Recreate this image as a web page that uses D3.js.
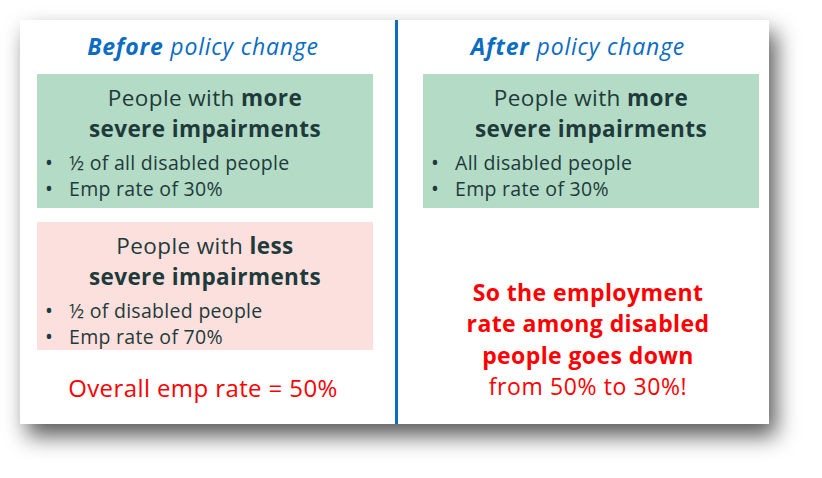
<!DOCTYPE html>
<html>
<head>
<meta charset="utf-8">
<script src="https://cdn.jsdelivr.net/npm/d3@7"></script>
<style>
  body { margin: 0; background: #ffffff; }
  svg { display: block; font-family: "Open Sans", sans-serif; }
</style>
</head>
<body>
<svg></svg>
<script>

const svg = d3.select("svg");
const svg_width = 822;
const svg_height = 478;

svg.attr("width", svg_width)
    .attr("height", svg_height);

// panel texts
const panels = ["before", "after"];
const panel_titles = [["Before", " policy change"], ["After", " policy change"]];

// boxes: panel, heading (normal, bold), second heading line, bullets
const box_panel = ["before", "before", "after"];
const box_kind = ["more", "less", "more"];
const box_head1 = [["People with ", "more"], ["People with ", "less"], ["People with ", "more"]];
const box_head2 = ["severe impairments", "severe impairments", "severe impairments"];
const box_bullets = [
    ["½ of all disabled people", "Emp rate of 30%"],
    ["½ of disabled people", "Emp rate of 70%"],
    ["All disabled people", "Emp rate of 30%"]
];

const before_note = "Overall emp rate = 50%";
const after_note_bold = ["So the employment", "rate among disabled", "people goes down"];
const after_note_plain = "from 50% to 30%!";

const colors = {more: "#b3dbc6", less: "#fce0dd"};
const text_dark = "#1e3a3a";
const blue = "#0a6cc2";
const red = "#ff0000";

// layout
const card = {x: 20, y: 20, w: 749, h: 404};
const titleCx = {before: 203, after: 578};
const boxX = {before: 37, after: 423};
const box_w = 336;
const box_top = [74, 222, 74];
const box_h = [134, 128, 134];

const defs = svg.append("defs");
const filter = defs.append("filter")
    .attr("id", "shadow")
    .attr("x", "-10%").attr("y", "-10%")
    .attr("width", "130%").attr("height", "150%");
filter.append("feDropShadow")
    .attr("dx", 7).attr("dy", 12)
    .attr("stdDeviation", 11)
    .attr("flood-color", "#000")
    .attr("flood-opacity", 0.65);

svg.append("rect")
    .attr("x", card.x).attr("y", card.y)
    .attr("width", card.w).attr("height", card.h)
    .attr("fill", "#fff")
    .attr("filter", "url(#shadow)");

svg.append("line")
    .attr("x1", 396.5).attr("x2", 396.5)
    .attr("y1", card.y).attr("y2", card.y + card.h)
    .attr("stroke", blue)
    .attr("stroke-width", 3);

svg.selectAll("text.title")
    .data(panels)
    .join("text")
    .attr("class", "title")
    .attr("x", d => titleCx[d])
    .attr("y", 55)
    .attr("text-anchor", "middle")
    .attr("font-size", 23)
    .attr("letter-spacing", 0.8)
    .attr("font-style", "italic")
    .attr("fill", blue)
    .each(function(d, i) {
        const t = d3.select(this);
        t.append("tspan").attr("font-weight", "bold").text(panel_titles[i][0]);
        t.append("tspan").text(panel_titles[i][1]);
    });

const boxes = svg.selectAll("g.box")
    .data(box_panel.map((p, i) => ({p, i})))
    .join("g")
    .attr("class", "box")
    .attr("transform", d => `translate(${boxX[d.p]},${box_top[d.i]})`);

boxes.append("rect")
    .attr("width", box_w)
    .attr("height", d => box_h[d.i])
    .attr("fill", d => colors[box_kind[d.i]]);

boxes.append("text")
    .attr("x", box_w / 2)
    .attr("y", 32)
    .attr("text-anchor", "middle")
    .attr("font-size", 22.5)
    .attr("letter-spacing", 0.4)
    .attr("fill", text_dark)
    .each(function(d) {
        const t = d3.select(this);
        t.append("tspan").text(box_head1[d.i][0]);
        t.append("tspan").attr("font-weight", "bold").text(box_head1[d.i][1]);
    });

boxes.append("text")
    .attr("x", box_w / 2)
    .attr("y", 63)
    .attr("text-anchor", "middle")
    .attr("font-size", 22.5)
    .attr("letter-spacing", 0.4)
    .attr("font-weight", "bold")
    .attr("fill", text_dark)
    .text(d => box_head2[d.i]);

boxes.each(function(d) {
    const g = d3.select(this);
    box_bullets[d.i].forEach((line, j) => {
        g.append("text")
            .attr("x", 8)
            .attr("y", 96 + j * 25.5)
            .attr("font-size", 21)
            .attr("fill", text_dark)
            .text("•");
        g.append("text")
            .attr("x", 32)
            .attr("y", 96 + j * 25.5)
            .attr("font-size", 19.5)
            .attr("letter-spacing", 0.3)
            .attr("fill", text_dark)
            .text(line);
    });
});

svg.append("text")
    .attr("x", 203)
    .attr("y", 397)
    .attr("text-anchor", "middle")
    .attr("font-size", 24)
    .attr("letter-spacing", 0.4)
    .attr("fill", red)
    .text(before_note);

svg.selectAll("text.note")
    .data(after_note_bold.concat([after_note_plain]))
    .join("text")
    .attr("class", "note")
    .attr("x", 588)
    .attr("y", (d, i) => 301 + i * 31.3)
    .attr("text-anchor", "middle")
    .attr("font-size", 23)
    .attr("letter-spacing", (d, i) => i < after_note_bold.length ? 0.4 : 0.6)
    .attr("font-weight", (d, i) => i < after_note_bold.length ? "bold" : "normal")
    .attr("fill", red)
    .text(d => d);

</script>
</body>
</html>
